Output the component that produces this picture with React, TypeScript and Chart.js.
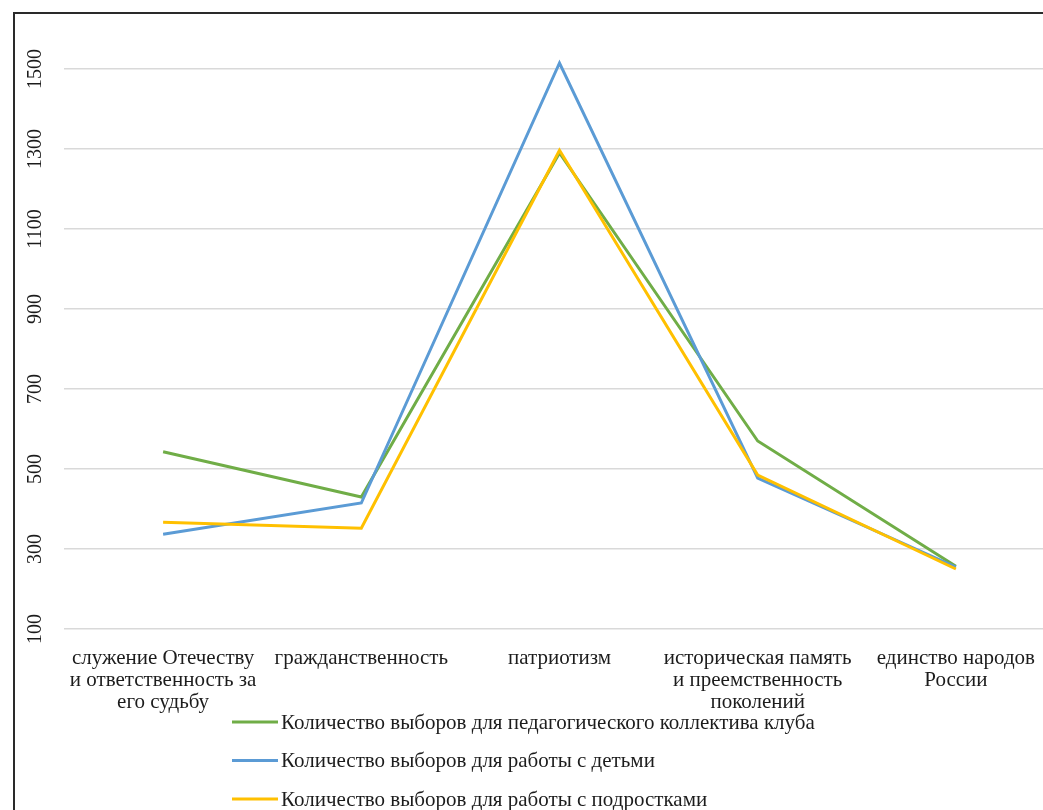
import React, { useEffect, useRef } from "react";
import { Chart, registerables } from "chart.js";

Chart.register(...registerables);

const categories: string[][] = [
  ["служение Отечеству", "и ответственность за", "его судьбу"],
  ["гражданственность"],
  ["патриотизм"],
  ["историческая память", "и преемственность", "поколений"],
  ["единство народов", "России"],
];

const seriesNames = [
  "Количество выборов для педагогического коллектива клуба",
  "Количество выборов для работы с детьми",
  "Количество выборов для работы с подростками",
];

const pedagoguesValues = [543, 430, 1290, 570, 257];
const childrenValues = [337, 415, 1515, 477, 255];
const teensValues = [367, 352, 1297, 485, 250];

const yTickValues = [100, 300, 500, 700, 900, 1100, 1300, 1500];

const seriesColors = ["#70AD47", "#5B9BD5", "#FFC000"];

const FONT = "'Liberation Serif', 'DejaVu Serif', serif";

const framePlugin = {
  id: "frame",
  beforeDraw(chart: any) {
    const ctx = chart.ctx;
    ctx.save();
    ctx.fillStyle = "#ffffff";
    ctx.fillRect(0, 0, chart.width, chart.height);
    ctx.strokeStyle = "#2a2a2a";
    ctx.lineWidth = 2;
    ctx.beginPath();
    ctx.moveTo(14, chart.height);
    ctx.lineTo(14, 13);
    ctx.lineTo(chart.width, 13);
    ctx.stroke();
    ctx.restore();
  },
};

const legendPlugin = {
  id: "customLegend",
  afterDraw(chart: any) {
    const ctx = chart.ctx;
    ctx.save();
    chart.data.datasets.forEach((ds: any, i: number) => {
      const y = 722 + i * 38.5;
      ctx.strokeStyle = ds.borderColor;
      ctx.lineWidth = 3;
      ctx.beginPath();
      ctx.moveTo(232, y);
      ctx.lineTo(278, y);
      ctx.stroke();
      ctx.fillStyle = "#1c1c1c";
      ctx.font = `21px ${FONT}`;
      ctx.textBaseline = "middle";
      ctx.textAlign = "left";
      ctx.fillText(ds.label, 281, y + 1);
    });
    ctx.restore();
  },
};

export default function App() {
  const canvasRef = useRef<HTMLCanvasElement | null>(null);

  useEffect(() => {
    if (!canvasRef.current) return;
    const datasetsSrc = [pedagoguesValues, childrenValues, teensValues];
    const chart = new Chart(canvasRef.current, {
      type: "line",
      data: {
        labels: categories,
        datasets: datasetsSrc.map((vals, i) => ({
          label: seriesNames[i],
          data: vals,
          borderColor: seriesColors[i],
          backgroundColor: seriesColors[i],
          borderWidth: 3,
          pointRadius: 0,
          tension: 0,
          fill: false,
          order: 2 - i,
        })),
      },
      options: {
        responsive: false,
        animation: false,
        layout: { padding: { top: 29, right: 5, bottom: 91, left: 0 } },
        plugins: {
          legend: { display: false },
          tooltip: { enabled: false },
          title: { display: false },
        },
        scales: {
          x: {
            type: "category",
            offset: true,
            grid: { display: false, drawTicks: false },
            border: { display: false },
            ticks: {
              padding: 18,
              color: "#1c1c1c",
              font: { family: FONT, size: 21, lineHeight: 1.05 },
              maxRotation: 0,
              minRotation: 0,
              autoSkip: false,
            },
            afterFit(scale: any) {
              scale.height = 90;
            },
          },
          y: {
            type: "linear",
            min: 100,
            max: 1600,
            grid: { color: "#d9d9d9", lineWidth: 1.5, drawTicks: false },
            border: { display: false },
            afterBuildTicks(scale: any) {
              scale.ticks = yTickValues.map((v) => ({ value: v }));
            },
            ticks: {
              color: "#1c1c1c",
              font: { family: FONT, size: 20 },
              minRotation: 90,
              maxRotation: 90,
              crossAlign: "center",
              padding: 8,
              callback: (v: any) => String(v),
            },
            afterFit(scale: any) {
              scale.width = 64;
            },
          },
        },
      },
      plugins: [framePlugin, legendPlugin],
    });
    return () => chart.destroy();
  }, []);

  return (
    <div
      style={{
        position: "absolute",
        left: 0,
        top: 0,
        width: 1043,
        height: 810,
        overflow: "hidden",
        background: "#ffffff",
      }}
    >
      <canvas
        ref={canvasRef}
        width={1060}
        height={810}
        style={{ display: "block", width: 1060, height: 810 }}
      />
    </div>
  );
}
